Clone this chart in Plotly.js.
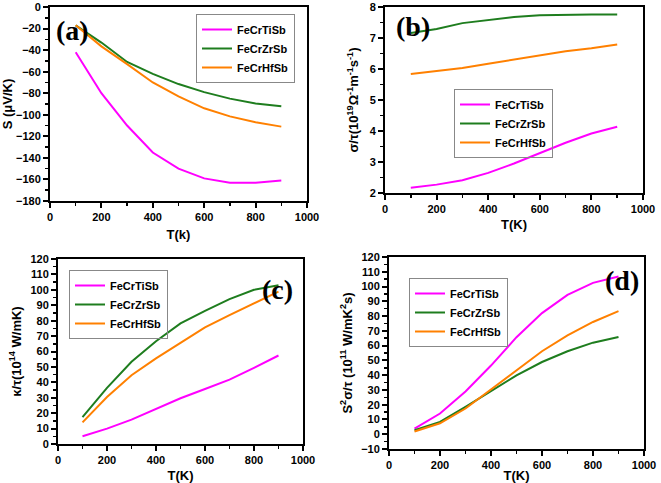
<!DOCTYPE html>
<html>
<head>
<meta charset="utf-8">
<script src="https://cdn.plot.ly/plotly-3.0.1.min.js"></script>
<style>html,body{margin:0;padding:0;background:#fff;}#chart{width:661px;height:483px;}</style>
</head>
<body>
<div id="chart"></div>
<script>
const T = [100, 200, 300, 400, 500, 600, 700, 800, 900];
const seriesNames = ['FeCrTiSb', 'FeCrZrSb', 'FeCrHfSb'];
const colors = ['#ff00ff', '#1e7d1e', '#ff8000'];

// (a) Seebeck coefficient S (μV/K)
const S_Ti = [-42, -80, -110, -135, -150, -159, -163, -163, -161];
const S_Zr = [-17, -33, -51, -62, -71.5, -79, -85, -89.5, -92];
const S_Hf = [-17, -36.5, -53, -70, -83, -94, -101.5, -107, -111];

// (b) sigma/tau (10^19 Ω^-1 m^-1 s^-1)
const sig_Ti = [2.17, 2.27, 2.41, 2.65, 2.95, 3.28, 3.62, 3.92, 4.14];
const sig_Zr = [7.16, 7.29, 7.48, 7.59, 7.68, 7.73, 7.75, 7.76, 7.76];
const sig_Hf = [5.84, 5.93, 6.03, 6.17, 6.30, 6.44, 6.57, 6.67, 6.79];

// (c) kappa/tau (10^14 W/mK)
const k_Ti = [5, 10, 15.8, 23, 29.7, 35.7, 41.8, 49.4, 57.4];
const k_Zr = [17.5, 36.4, 53.3, 66.7, 78.2, 86.4, 94, 100, 103];
const k_Hf = [14, 30.5, 44.6, 55.5, 65.6, 75.6, 83.6, 91.2, 98.8];

// (d) power factor S^2 sigma/tau (10^11 W/mK^2 s)
const pf_Ti = [3.8, 14, 29, 46.5, 65.7, 82, 94.3, 102.5, 106.8];
const pf_Zr = [2.7, 8.3, 18.5, 29.3, 39.9, 48.9, 56.2, 62, 65.9];
const pf_Hf = [1.8, 7.4, 17.4, 30.2, 43.3, 56.2, 67, 76, 83.3];

const panels = [
  {data: [S_Ti, S_Zr, S_Hf], ax: '', legend: 'legend'},
  {data: [sig_Ti, sig_Zr, sig_Hf], ax: '2', legend: 'legend2'},
  {data: [k_Ti, k_Zr, k_Hf], ax: '3', legend: 'legend3'},
  {data: [pf_Ti, pf_Zr, pf_Hf], ax: '4', legend: 'legend4'}
];

const traces = [];
panels.forEach(p => {
  p.data.forEach((ys, i) => {
    traces.push({
      x: T, y: ys, type: 'scatter', mode: 'lines', name: seriesNames[i],
      xaxis: 'x' + p.ax, yaxis: 'y' + p.ax, legend: p.legend,
      line: {color: colors[i], width: 2}
    });
  });
});

const W = 661, H = 483;
const px = v => v / W;
const py = v => 1 - v / H;

const tickFont = {family: 'Liberation Sans, Arial, sans-serif', size: 11, color: '#000', weight: 'bold'};
const titleFont = {family: 'Liberation Sans, Arial, sans-serif', size: 13, color: '#000', weight: 'bold'};

function xa(domain, title, standoff) {
  return {
    domain: domain, range: [0, 1000], dtick: 200, tick0: 0,
    showline: true, mirror: true, linecolor: '#000', linewidth: 2,
    ticks: 'outside', ticklen: 5, tickwidth: 2, tickcolor: '#000',
    minor: {ticks: 'outside', ticklen: 3, tickwidth: 1.5, tickcolor: '#000', dtick: 100, showgrid: false},
    showgrid: false, zeroline: false, tickfont: tickFont,
    title: {text: title, font: titleFont, standoff: standoff}
  };
}
function ya(domain, range, dtick, minorD, title, standoff) {
  return {
    domain: domain, range: range, dtick: dtick, tick0: 0,
    showline: true, mirror: true, linecolor: '#000', linewidth: 2,
    ticks: 'outside', ticklen: 5, tickwidth: 2, tickcolor: '#000',
    minor: {ticks: 'outside', ticklen: 3, tickwidth: 1.5, tickcolor: '#000', dtick: minorD, showgrid: false},
    showgrid: false, zeroline: false, tickfont: tickFont,
    title: {text: title, font: titleFont, standoff: standoff}
  };
}

function leg(left, top) {
  return {
    x: px(left), y: py(top), xanchor: 'left', yanchor: 'top',
    bgcolor: 'rgba(255,255,255,0)', bordercolor: '#888', borderwidth: 1,
    font: {family: 'Liberation Sans, Arial, sans-serif', size: 11, color: '#000', weight: 'bold'},
    itemwidth: 30, tracegroupgap: 0
  };
}

const labFont = {family: 'Liberation Serif, Times New Roman, serif', size: 28, color: '#000', weight: 'bold'};
function lab(text, cx, cy) {
  return {text: text, xref: 'paper', yref: 'paper', x: px(cx), y: py(cy),
          xanchor: 'center', yanchor: 'middle', showarrow: false, font: labFont};
}

const layout = {
  width: W, height: H, margin: {l: 0, r: 0, t: 0, b: 0},
  paper_bgcolor: '#fff', plot_bgcolor: '#fff', showlegend: true,
  xaxis: Object.assign(xa([px(50), px(307)], 'T(k)', 8), {anchor: 'y'}),
  yaxis: Object.assign(ya([py(201), py(7)], [-180, 0], 20, 10, 'S (μV/K)', 6), {anchor: 'x'}),
  xaxis2: Object.assign(xa([px(385), px(643)], 'T(K)', 6), {anchor: 'y2'}),
  yaxis2: Object.assign(ya([py(193), py(7)], [2, 8], 1, 0.5, 'σ/τ(10<sup>19</sup>Ω<sup>-1</sup>m<sup>-1</sup>s<sup>-1</sup>)', 8), {anchor: 'x2'}),
  xaxis3: Object.assign(xa([px(58), px(303)], 'T(K)', 6), {anchor: 'y3'}),
  yaxis3: Object.assign(ya([py(444), py(259)], [0, 120], 10, 5, 'κ/τ(10<sup>14</sup> W/mK)', 6), {anchor: 'x3'}),
  xaxis4: Object.assign(xa([px(389), px(644)], 'T(K)', 4), {anchor: 'y4'}),
  yaxis4: Object.assign(ya([py(449), py(257)], [-10, 120], 10, 5, 'S<sup>2</sup>σ/τ (10<sup>11</sup> W/mK<sup>2</sup>s)', 6), {anchor: 'x4'}),
  legend: leg(196, 14),
  legend2: leg(454, 89),
  legend3: leg(69, 270),
  legend4: leg(409, 278),
  annotations: [
    lab('(a)', 72, 30),
    lab('(b)', 413, 27),
    lab('(c)', 277, 289),
    lab('(d)', 622, 280)
  ]
};

Plotly.newPlot('chart', traces, layout, {displayModeBar: false, staticPlot: true});
</script>
</body>
</html>
